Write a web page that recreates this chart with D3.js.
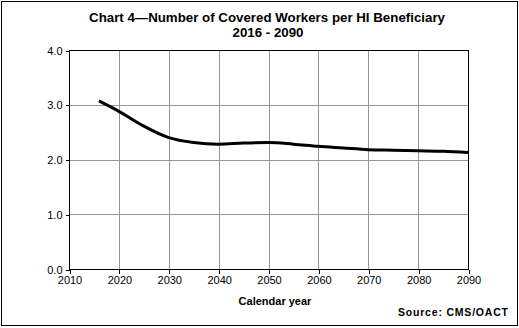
<!DOCTYPE html>
<html>
<head>
<meta charset="utf-8">
<script src="https://cdn.jsdelivr.net/npm/d3@7"></script>
<style>
  html, body { margin: 0; padding: 0; background: #fff; }
  svg { display: block; font-family: "Liberation Sans", Arial, sans-serif; }
</style>
</head>
<body>
<svg id="chart" width="519" height="328"></svg>
<script>
// Covered workers per HI beneficiary, intermediate projection
const years = [2016, 2020, 2025, 2030, 2035, 2040, 2045, 2050, 2055, 2060, 2065, 2070, 2075, 2080, 2085, 2090];
const ratios = [3.07, 2.88, 2.61, 2.40, 2.31, 2.28, 2.30, 2.31, 2.28, 2.24, 2.21, 2.18, 2.17, 2.16, 2.15, 2.13];
const xTicks = [2010, 2020, 2030, 2040, 2050, 2060, 2070, 2080, 2090];
const yTicks = [0, 1, 2, 3, 4];

const svg = d3.select("#chart");
const W = 519, H = 328;
const m = { left: 69, right: 468, top: 50, bottom: 269 };

// outer frame
svg.append("rect").attr("x", 1.5).attr("y", 1.5).attr("width", W - 3).attr("height", H - 4)
  .attr("fill", "none").attr("stroke", "#000").attr("stroke-width", 1);

const x = d3.scaleLinear().domain([2010, 2090]).range([m.left, m.right]);
const y = d3.scaleLinear().domain([0, 4]).range([m.bottom, m.top]);

// grid
const g = svg.append("g").attr("shape-rendering", "crispEdges");
g.selectAll(".vg").data(xTicks.slice(1, -1)).join("line")
  .attr("x1", d => Math.round(x(d)) + 0.5).attr("x2", d => Math.round(x(d)) + 0.5)
  .attr("y1", m.top).attr("y2", m.bottom).attr("stroke", "#969696");
g.selectAll(".hg").data(yTicks.slice(1, -1)).join("line")
  .attr("y1", d => Math.round(y(d)) + 0.5).attr("y2", d => Math.round(y(d)) + 0.5)
  .attr("x1", m.left).attr("x2", m.right).attr("stroke", "#969696");

// plot border
g.append("rect").attr("x", m.left + 0.5).attr("y", m.top + 0.5)
  .attr("width", m.right - m.left).attr("height", m.bottom - m.top)
  .attr("fill", "none").attr("stroke", "#000");

// axes
const xAxis = svg.append("g").attr("transform", `translate(0.5,${m.bottom + 0.5})`)
  .call(d3.axisBottom(x).tickValues(xTicks).tickFormat(d3.format("d")).tickSize(4).tickPadding(3));
const yAxis = svg.append("g").attr("transform", `translate(${m.left + 0.5},0.5)`)
  .call(d3.axisLeft(y).tickValues(yTicks).tickFormat(d3.format(".1f")).tickSize(4).tickPadding(3));
[xAxis, yAxis].forEach(a => {
  a.select(".domain").remove();
  a.selectAll("line").attr("stroke", "#000").attr("shape-rendering", "crispEdges");
  a.selectAll("text").attr("font-size", 11).attr("fill", "#000")
    .attr("font-family", "'Liberation Sans', Arial, sans-serif");
});

// series
const line = d3.line().x((d, i) => x(years[i])).y(d => y(d)).curve(d3.curveMonotoneX);
svg.append("path").datum(ratios).attr("d", line)
  .attr("fill", "none").attr("stroke", "#000").attr("stroke-width", 3)
  .attr("stroke-linejoin", "round");

// titles
svg.append("text").attr("x", 267).attr("y", 22).attr("text-anchor", "middle")
  .attr("font-size", 13.3).attr("font-weight", "bold")
  .text("Chart 4\u2014Number of Covered Workers per HI Beneficiary");
svg.append("text").attr("x", 268).attr("y", 37).attr("text-anchor", "middle")
  .attr("font-size", 13.3).attr("font-weight", "bold").text("2016 - 2090");
svg.append("text").attr("x", 275).attr("y", 305).attr("text-anchor", "middle")
  .attr("font-size", 11).attr("font-weight", "bold").text("Calendar year");
svg.append("text").attr("x", 508).attr("y", 316).attr("text-anchor", "end")
  .attr("font-size", 10.5).attr("font-weight", "bold")
  .attr("textLength", 110).attr("lengthAdjust", "spacing").text("Source: CMS/OACT");
</script>
</body>
</html>
